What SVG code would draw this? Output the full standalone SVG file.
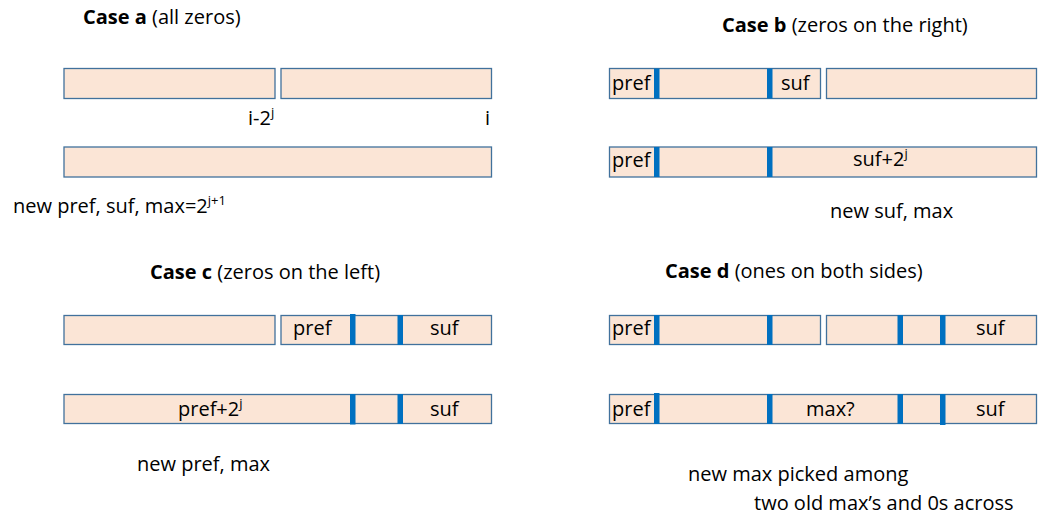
<svg xmlns="http://www.w3.org/2000/svg" width="1038" height="518" viewBox="0 0 1038 518">
<style>
text{font-family:"Open Sans","Liberation Sans",sans-serif;font-size:20px;fill:#000}
.b{font-weight:bold}
.cell{fill:#FBE5D6;stroke:#41719C;stroke-width:1.3}
.bar{fill:#0070C0}
.sup{font-size:13px}
</style>
<rect width="1038" height="518" fill="#fff"/>
<g id="caseA">
<text x="83" y="24"><tspan class="b">Case a</tspan> (all zeros)</text>
<g id="a-top">
<rect class="cell" x="64" y="68.5" width="211" height="30"/>
<rect class="cell" x="281" y="68.5" width="210.5" height="30"/>
</g>
<text x="248" y="124.5">i-2<tspan class="sup" dy="-8">j</tspan></text>
<text x="485" y="124.5">i</text>
<g id="a-bottom">
<rect class="cell" x="64" y="147" width="427.5" height="30"/>
</g>
<text x="13" y="213">new pref, suf, max=2<tspan class="sup" dy="-8">j+1</tspan></text>
</g>
<g id="caseB">
<text x="722" y="32"><tspan class="b">Case b</tspan> (zeros on the right)</text>
<g id="b-top">
<rect class="cell" x="609.5" y="68.5" width="211" height="30"/>
<rect class="cell" x="826.5" y="68.5" width="210" height="30"/>
<rect class="bar" x="654" y="68.5" width="5.5" height="30"/>
<rect class="bar" x="767" y="68.5" width="5.5" height="30"/>
<text x="612" y="89.5">pref</text>
<text x="781" y="89.5">suf</text>
</g>
<g id="b-bottom">
<rect class="cell" x="609.5" y="147" width="427" height="30"/>
<rect class="bar" x="654" y="147" width="5.5" height="30"/>
<rect class="bar" x="767" y="147" width="5.5" height="30"/>
<text x="612" y="167">pref</text>
<text x="853" y="166">suf+2<tspan class="sup" dy="-8">j</tspan></text>
</g>
<text x="830" y="218">new suf, max</text>
</g>
<g id="caseC">
<text x="150" y="279"><tspan class="b">Case c</tspan> (zeros on the left)</text>
<g id="c-top">
<rect class="cell" x="64" y="315.5" width="211" height="29"/>
<rect class="cell" x="281" y="315.5" width="210.5" height="29"/>
<rect class="bar" x="350" y="314" width="5.5" height="31"/>
<rect class="bar" x="397.5" y="315" width="5.5" height="30"/>
<text x="293" y="334.5">pref</text>
<text x="430" y="334.5">suf</text>
</g>
<g id="c-bottom">
<rect class="cell" x="64" y="394.5" width="427.5" height="29"/>
<rect class="bar" x="350" y="394" width="5.5" height="30.5"/>
<rect class="bar" x="397.5" y="394" width="5.5" height="30"/>
<text x="178" y="416">pref+2<tspan class="sup" dy="-8">j</tspan></text>
<text x="430" y="416">suf</text>
</g>
<text x="137" y="471">new pref, max</text>
</g>
<g id="caseD">
<text x="665" y="278"><tspan class="b">Case d</tspan> (ones on both sides)</text>
<g id="d-top">
<rect class="cell" x="609.5" y="315.5" width="211" height="29"/>
<rect class="cell" x="826.5" y="315.5" width="210" height="29"/>
<rect class="bar" x="654" y="315" width="5.5" height="30"/>
<rect class="bar" x="767" y="315" width="5.5" height="30"/>
<rect class="bar" x="897.5" y="315" width="5.5" height="30"/>
<rect class="bar" x="940" y="315" width="5.5" height="30"/>
<text x="612" y="334.5">pref</text>
<text x="976" y="334.5">suf</text>
</g>
<g id="d-bottom">
<rect class="cell" x="609.5" y="394.5" width="427" height="29"/>
<rect class="bar" x="654" y="393" width="5.5" height="31"/>
<rect class="bar" x="767" y="394" width="5.5" height="30"/>
<rect class="bar" x="897.5" y="394" width="5.5" height="30"/>
<rect class="bar" x="940" y="394" width="5.5" height="31"/>
<text x="612" y="416">pref</text>
<text x="806" y="416">max?</text>
<text x="976" y="416">suf</text>
</g>
<text x="688" y="481">new max picked among</text>
<text x="754" y="510">two old max’s and 0s across</text>
</g>
</svg>
